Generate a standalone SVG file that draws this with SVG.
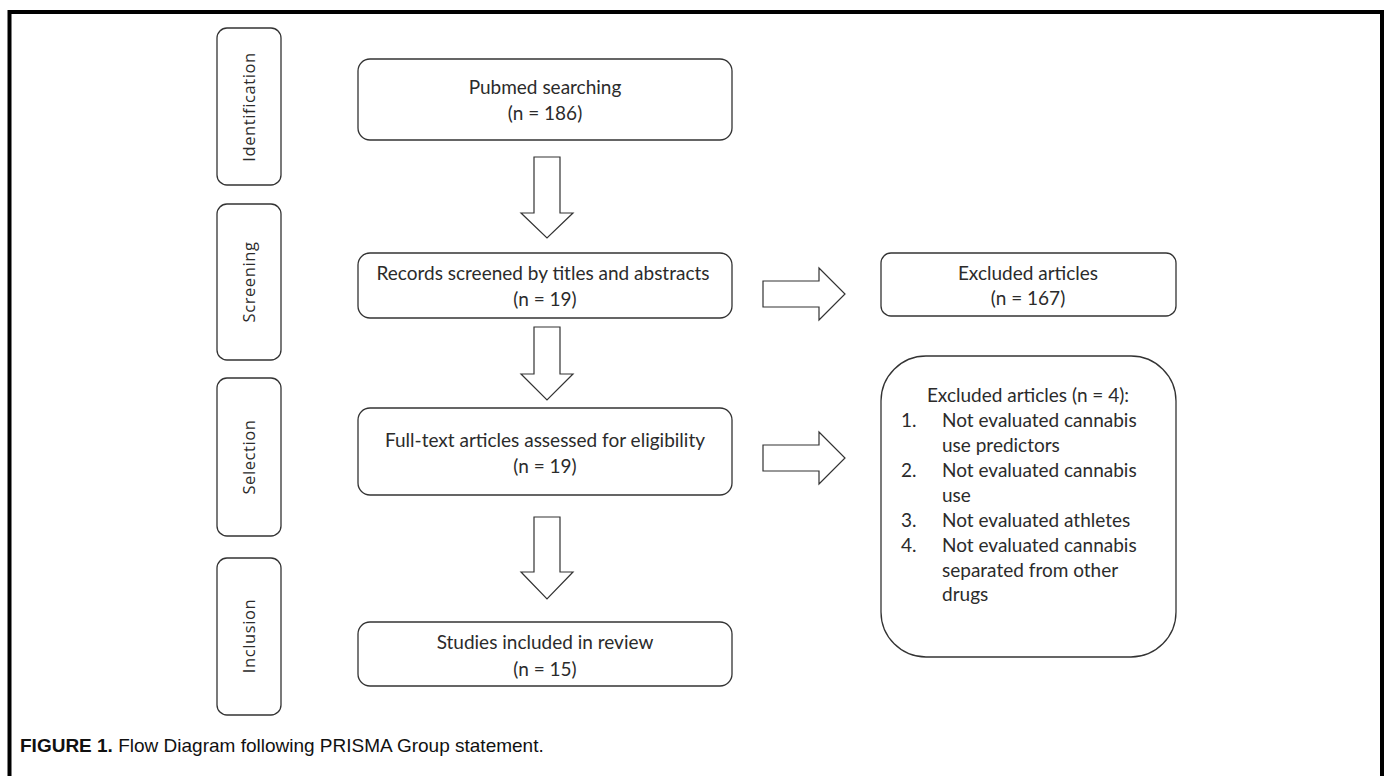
<svg xmlns="http://www.w3.org/2000/svg" width="1388" height="776" viewBox="0 0 1388 776">
<style>
.box{fill:#fff;stroke:#333;stroke-width:1.3}
.arr{fill:#fff;stroke:#333;stroke-width:1.2;stroke-linejoin:miter}
.t{font-family:Lato,"Liberation Sans",sans-serif;font-size:19px;fill:#2b2b2b}
.c{text-anchor:middle}
.side{font-family:"Open Sans","Liberation Sans",sans-serif;font-size:16.5px;fill:#2b2b2b;text-anchor:middle;letter-spacing:0.6px}
.cap{font-family:"Liberation Sans",Arial,sans-serif;font-size:19px;fill:#111}
</style>
<rect x="0" y="0" width="1388" height="776" fill="#fff"/>
<rect x="9.5" y="12" width="1372.5" height="790" fill="none" stroke="#000" stroke-width="4"/>

<g id="stage-identification">
<rect class="box" x="217" y="28" width="64" height="157" rx="10"/>
<text class="side" transform="translate(255,107) rotate(-90)">Identification</text>
</g>
<g id="stage-screening">
<rect class="box" x="217" y="204" width="64" height="156" rx="10"/>
<text class="side" transform="translate(255,282) rotate(-90)">Screening</text>
</g>
<g id="stage-selection">
<rect class="box" x="217" y="378" width="64" height="158" rx="10"/>
<text class="side" transform="translate(255,457) rotate(-90)">Selection</text>
</g>
<g id="stage-inclusion">
<rect class="box" x="217" y="558" width="64" height="157" rx="10"/>
<text class="side" transform="translate(255,636) rotate(-90)">Inclusion</text>
</g>

<g id="pubmed">
<rect class="box" x="358" y="59" width="374" height="81" rx="12"/>
<text class="t c" x="545" y="94">Pubmed searching</text>
<text class="t c" x="545" y="120">(n = 186)</text>
</g>
<g id="records">
<rect class="box" x="358" y="253" width="374" height="65" rx="12"/>
<text class="t c" x="543" y="280">Records screened by titles and abstracts</text>
<text class="t c" x="545" y="306">(n = 19)</text>
</g>
<g id="fulltext">
<rect class="box" x="358" y="408" width="374" height="87" rx="12"/>
<text class="t c" x="545" y="447">Full-text articles assessed for eligibility</text>
<text class="t c" x="545" y="473">(n = 19)</text>
</g>
<g id="studies">
<rect class="box" x="358" y="622" width="374" height="64" rx="12"/>
<text class="t c" x="545" y="649">Studies included in review</text>
<text class="t c" x="545" y="676">(n = 15)</text>
</g>
<g id="excluded1">
<rect class="box" x="881" y="253" width="295" height="63" rx="10"/>
<text class="t c" x="1028" y="280">Excluded articles</text>
<text class="t c" x="1028" y="305">(n = 167)</text>
</g>
<g id="excluded2">
<rect class="box" x="881" y="356" width="295" height="301" rx="45"/>
<text class="t c" x="1028" y="402">Excluded articles (n = 4):</text>
<text class="t" x="901" y="427">1.</text><text class="t" x="942" y="427">Not evaluated cannabis</text>
<text class="t" x="942" y="452">use predictors</text>
<text class="t" x="901" y="477">2.</text><text class="t" x="942" y="477">Not evaluated cannabis</text>
<text class="t" x="942" y="502">use</text>
<text class="t" x="901" y="527">3.</text><text class="t" x="942" y="527">Not evaluated athletes</text>
<text class="t" x="901" y="552">4.</text><text class="t" x="942" y="552">Not evaluated cannabis</text>
<text class="t" x="942" y="577">separated from other</text>
<text class="t" x="942" y="601">drugs</text>
</g>

<g id="connectors">
<polygon class="arr" points="534,157 560,157 560,213 573,213 547,238 521,213 534,213"/>
<polygon class="arr" points="534,327 560,327 560,374 573,374 547,400 521,374 534,374"/>
<polygon class="arr" points="534,517 560,517 560,572 573,572 547,599 521,572 534,572"/>
<polygon class="arr" points="763,281 819,281 819,268 845,294 819,320 819,307 763,307"/>
<polygon class="arr" points="763,445 819,445 819,432 845,458 819,484 819,471 763,471"/>
</g>

<g id="caption">
<text class="cap" x="20" y="752"><tspan font-weight="bold">FIGURE 1.</tspan> Flow Diagram following PRISMA Group statement.</text>
</g>
</svg>
